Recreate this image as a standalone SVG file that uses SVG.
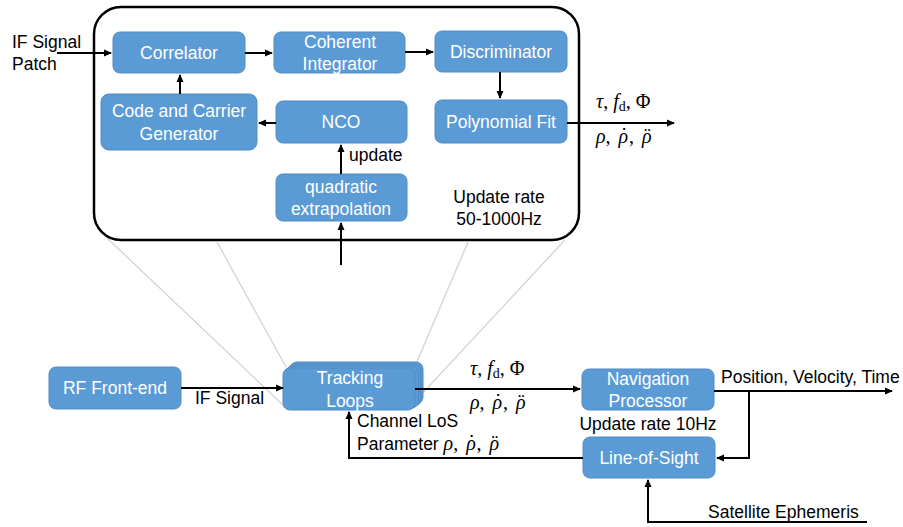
<svg xmlns="http://www.w3.org/2000/svg" width="903" height="527" viewBox="0 0 903 527">
<style>
.box{fill:#5B9BD5;stroke:#4F8BC4;stroke-width:1}
.bt{font-family:"Liberation Sans",Arial,sans-serif;font-size:17.5px;fill:#fff;text-anchor:middle}
.t{font-family:"Liberation Sans",Arial,sans-serif;font-size:17.5px;fill:#000}
.m{font-family:"Liberation Serif","Times New Roman",serif;font-size:20px;fill:#000}
.c{fill:none;stroke:#000;stroke-width:2}
.g{stroke:#d3d3d3;stroke-width:1.3;fill:none}
</style>
<defs>
<marker id="ah" markerWidth="8" markerHeight="8" refX="7" refY="4" orient="auto" markerUnits="userSpaceOnUse">
<path d="M0,0.5 L8,4 L0,7.5 Z" fill="#000"/>
</marker>
</defs>
<g id="zoomlines">
<path class="g" d="M107,238 L285,407"/>
<path class="g" d="M217,242 L286,367"/>
<path class="g" d="M468,242 L416,364"/>
<path class="g" d="M565,240 L418,398"/>
</g>
<g id="tracking-detail">
<rect x="94" y="7" width="485" height="233" rx="27" fill="#fff" stroke="#000" stroke-width="2.5"/>
<text class="t" x="499" y="203" text-anchor="middle">Update rate</text>
<text class="t" x="499" y="225" text-anchor="middle">50-1000Hz</text>
</g>
<g id="correlator"><rect class="box" x="113" y="32" width="132" height="41" rx="7"/><text class="bt" x="179" y="59">Correlator</text></g>
<g id="coherent"><rect class="box" x="274" y="32" width="131" height="41" rx="7"/><text class="bt" x="340" y="48">Coherent</text><text class="bt" x="340" y="70">Integrator</text></g>
<g id="discriminator"><rect class="box" x="435" y="31" width="132" height="41" rx="7"/><text class="bt" x="501" y="58">Discriminator</text></g>
<g id="codegen"><rect class="box" x="101" y="94" width="156" height="56" rx="8"/><text class="bt" x="179" y="117">Code and Carrier</text><text class="bt" x="179" y="140">Generator</text></g>
<g id="nco"><rect class="box" x="276" y="101" width="131" height="42" rx="7"/><text class="bt" x="341" y="128">NCO</text></g>
<g id="polyfit"><rect class="box" x="435" y="100" width="132" height="43" rx="7"/><text class="bt" x="501" y="128">Polynomial Fit</text></g>
<g id="quadratic"><rect class="box" x="276" y="174" width="131" height="47" rx="7"/><text class="bt" x="341" y="193">quadratic</text><text class="bt" x="341" y="215">extrapolation</text></g>
<g id="rf"><rect class="box" x="49" y="367" width="132" height="42" rx="7"/><text class="bt" x="115" y="394">RF Front-end</text></g>
<g id="tracking">
<rect class="box" x="290" y="362" width="133" height="42" rx="7" stroke="#4A80B5"/>
<rect class="box" x="288" y="364" width="133" height="42" rx="7" stroke="#4A80B5"/>
<rect class="box" x="285.5" y="366" width="133" height="42" rx="7" stroke="#4A80B5"/>
<rect class="box" x="283" y="368" width="132" height="42" rx="7" stroke="#cfe0f0"/>
<text class="bt" x="350" y="384">Tracking</text><text class="bt" x="350" y="407">Loops</text>
</g>
<g id="nav"><rect class="box" x="582" y="369" width="132" height="41" rx="7"/><text class="bt" x="648" y="385">Navigation</text><text class="bt" x="648" y="407">Processor</text></g>
<g id="los"><rect class="box" x="583" y="437" width="132" height="41" rx="7"/><text class="bt" x="649" y="464">Line-of-Sight</text></g>
<g id="connectors">
<path class="c" d="M57,53 L111,53" marker-end="url(#ah)"/>
<path class="c" d="M245,53 L272,53" marker-end="url(#ah)"/>
<path class="c" d="M405,52 L433,52" marker-end="url(#ah)"/>
<path class="c" d="M500,72 L500,98" marker-end="url(#ah)"/>
<path class="c" d="M180,94 L180,75" marker-end="url(#ah)"/>
<path class="c" d="M276,123 L259,123" marker-end="url(#ah)"/>
<path class="c" d="M341,174 L341,145" marker-end="url(#ah)"/>
<path class="c" d="M341,265 L341,223" marker-end="url(#ah)"/>
<path class="c" d="M567,123 L674,123" marker-end="url(#ah)"/>
<path class="c" d="M181,388 L283,388" marker-end="url(#ah)"/>
<path class="c" d="M415,389 L580,389" marker-end="url(#ah)"/>
<path class="c" d="M714,391 L892,391" marker-end="url(#ah)"/>
<path class="c" d="M749,391 L749,458 L717,458" marker-end="url(#ah)"/>
<path class="c" d="M583,458 L349,458 L349,412" marker-end="url(#ah)"/>
<path class="c" d="M867,522 L648,522 L648,480" marker-end="url(#ah)"/>
</g>
<g id="labels">
<text class="t" x="12" y="48">IF Signal</text>
<text class="t" x="12" y="70">Patch</text>
<text class="t" x="349" y="161">update</text>
<text class="m" x="596" y="108"><tspan font-style="italic">τ</tspan>, <tspan font-style="italic">f</tspan><tspan font-size="14" dy="3">d</tspan><tspan dy="-3">, Φ</tspan></text>
<text class="m" x="596" y="143"><tspan font-style="italic">ρ</tspan>,  <tspan dx="3" font-style="italic">ρ</tspan><tspan dx="-7.5" dy="-1">˙</tspan><tspan dx="1.5" dy="1">,  </tspan><tspan dx="3" font-style="italic">ρ</tspan><tspan dx="-7.5" dy="-1">¨</tspan></text>
<text class="t" x="195" y="404">IF Signal</text>
<text class="m" x="470" y="375"><tspan font-style="italic">τ</tspan>, <tspan font-style="italic">f</tspan><tspan font-size="14" dy="3">d</tspan><tspan dy="-3">, Φ</tspan></text>
<text class="m" x="470" y="409"><tspan font-style="italic">ρ</tspan>,  <tspan dx="3" font-style="italic">ρ</tspan><tspan dx="-7.5" dy="-1">˙</tspan><tspan dx="1.5" dy="1">,  </tspan><tspan dx="3" font-style="italic">ρ</tspan><tspan dx="-7.5" dy="-1">¨</tspan></text>
<text class="t" x="721" y="383">Position, Velocity, Time</text>
<text class="t" x="648" y="430" text-anchor="middle">Update rate 10Hz</text>
<text class="t" x="357" y="427">Channel LoS</text>
<text x="357" y="450"><tspan class="t">Parameter </tspan><tspan class="m" font-style="italic">ρ</tspan><tspan class="m">,  </tspan><tspan class="m" dx="3" font-style="italic">ρ</tspan><tspan class="m" dx="-7.5" dy="-1">˙</tspan><tspan class="m" dx="1.5" dy="1">,  </tspan><tspan class="m" dx="3" font-style="italic">ρ</tspan><tspan class="m" dx="-7.5" dy="-1">¨</tspan></text>
<text class="t" x="708" y="518">Satellite Ephemeris</text>
</g>
</svg>
